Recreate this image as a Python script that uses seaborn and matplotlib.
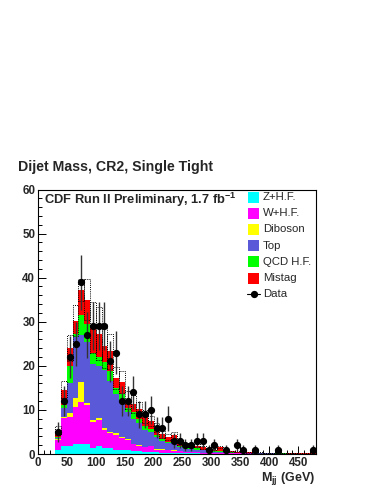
import numpy as np
import pandas as pd
import matplotlib
matplotlib.use("Agg")
import matplotlib.pyplot as plt
from matplotlib.patches import Rectangle
from matplotlib.lines import Line2D
from matplotlib.ticker import MultipleLocator
import seaborn as sns

# ---------------- data ----------------
bin_low = [30, 40, 50, 60, 70, 80, 90, 100, 110, 120, 130, 140, 150, 160, 170,
           180, 190, 200, 210, 220, 230, 240, 250, 260, 270, 280, 290, 300, 310, 320,
           330, 340, 350, 360, 370, 380, 390, 400, 410, 420, 430, 440, 450, 460, 470]
bin_width = 10

z_hf = [0.9, 1.8, 1.9, 2.2, 2.3, 2.3, 1.4, 1.8, 1.3, 1.3, 1.0, 1.0, 0.9, 0.7, 0.6,
        0.5, 0.4, 0.4, 0.3, 0.3, 0.25, 0.2, 0.15, 0.15, 0.15, 0.1, 0.1, 0.1, 0.1, 0.08,
        0.06, 0.05, 0.05, 0.04, 0.04, 0.03, 0.03, 0.03, 0.02, 0.02, 0.02, 0.02, 0.01, 0.01, 0.01]
w_hf = [2.3, 6.4, 6.6, 8.4, 9.6, 8.9, 5.8, 6.0, 4.2, 3.5, 3.4, 2.6, 2.3, 1.5, 1.3,
        1.0, 1.4, 0.6, 0.7, 0.5, 0.5, 0.4, 0.3, 0.3, 0.3, 0.2, 0.2, 0.2, 0.15, 0.15,
        0.1, 0.1, 0.08, 0.08, 0.06, 0.06, 0.05, 0.05, 0.04, 0.04, 0.03, 0.03, 0.03, 0.02, 0.02]
diboson = [0.1, 0.3, 0.9, 2.2, 4.5, 0.4, 0.4, 0.4, 0.3, 0.3, 0.3, 0.2, 0.3, 0.1, 0.1,
           0.1, 0.1, 0.1, 0.05, 0.05, 0.05, 0.05, 0.03, 0.03, 0.03, 0.02, 0.02, 0.02, 0.02, 0.02,
           0.01, 0.01, 0.01, 0.01, 0.01, 0.01, 0.01, 0.01, 0.0, 0.0, 0.0, 0.0, 0.0, 0.0, 0.0]
top = [0.3, 2.0, 6.8, 13.7, 10.6, 13.9, 12.9, 11.8, 13.2, 11.4, 8.8, 8.2, 6.0, 5.7, 5.0,
       3.9, 3.1, 2.7, 1.85, 1.55, 1.6, 0.85, 0.72, 0.62, 0.52, 0.48, 0.33, 0.23, 0.28, 0.2,
       0.16, 0.12, 0.12, 0.09, 0.08, 0.06, 0.06, 0.05, 0.05, 0.05, 0.04, 0.04, 0.03, 0.03, 0.03]
qcd_hf = [0.3, 0.7, 3.8, 0.8, 4.5, 4.0, 2.3, 2.0, 1.8, 2.3, 1.5, 1.5, 1.0, 1.5, 1.0,
          0.8, 0.7, 0.6, 0.45, 0.4, 0.5, 0.3, 0.25, 0.25, 0.3, 0.2, 0.15, 0.12, 0.12, 0.1,
          0.07, 0.06, 0.05, 0.05, 0.04, 0.03, 0.03, 0.03, 0.02, 0.02, 0.02, 0.02, 0.01, 0.01, 0.01]
mistag = [1.4, 3.4, 4.0, 2.9, 5.8, 5.5, 5.9, 5.3, 3.7, 4.5, 2.3, 2.8, 1.8, 1.8, 2.2,
          2.2, 1.8, 1.6, 1.15, 1.0, 1.4, 0.8, 0.65, 0.65, 0.6, 0.5, 0.4, 0.33, 0.93, 0.25,
          0.2, 0.16, 0.19, 0.13, 0.12, 0.11, 0.1, 0.1, 0.08, 0.08, 0.07, 0.07, 0.06, 0.06, 0.05]
bkg_unc = [1.0, 2.0, 3.0, 3.5, 2.5, 4.7, 5.7, 6.0, 5.0, 4.0, 2.5, 2.5, 2.0, 2.0, 1.6,
           1.4, 1.2, 1.0, 0.8, 0.7, 0.8, 0.5, 0.4, 0.4, 0.4, 0.3, 0.25, 0.2, 0.3, 0.15,
           0.12, 0.1, 0.1, 0.08, 0.08, 0.06, 0.06, 0.05, 0.05, 0.05, 0.04, 0.04, 0.04, 0.03, 0.03]
data_counts = [5, 12, 22, 25, 39, 27, 29, 29, 29, 21, 23, 12, 12, 14, 9,
               9, 10, 6, 6, 8, 3, 3, 2, 2, 3, 3, 1, 2, 0, 1,
               0, 2, 1, 0, 1, 0, 0, 0, 1, 0, 0, 0, 0, 0, 1]

process_names = ["Z+H.F.", "W+H.F.", "Diboson", "Top", "QCD H.F.", "Mistag"]
process_values = [z_hf, w_hf, diboson, top, qcd_hf, mistag]
process_colors = ["#00FFFF", "#FF00FF", "#FFFF00", "#5A5AD8", "#00FF00", "#FF0000"]

title = "Dijet Mass, CR2, Single Tight"
label_text = r"CDF Run II Preliminary, 1.7 fb$^{\mathbf{-1}}$"

# ---------------- style ----------------
sns.set_style("white")
plt.rcParams["font.family"] = ["Liberation Sans", "DejaVu Sans"]
plt.rcParams["mathtext.fontset"] = "custom"
plt.rcParams["mathtext.rm"] = "Liberation Sans"
plt.rcParams["mathtext.bf"] = "Liberation Sans:bold"
plt.rcParams["mathtext.it"] = "Liberation Sans:italic"

edges = bin_low + [bin_low[-1] + bin_width]
centers = [b + bin_width / 2 for b in bin_low]

rows = []
for name, vals in zip(process_names, process_values):
    for c, v in zip(centers, vals):
        rows.append({"mass": c, "events": v, "process": name})
df = pd.DataFrame(rows)

fig = plt.figure(figsize=(3.82, 4.94), dpi=100)
W, H = 382, 494
ax_l, ax_r, ax_t, ax_b = 38, 315.5, 189.5, 454
ax = fig.add_axes([ax_l / W, 1 - ax_b / H, (ax_r - ax_l) / W, (ax_b - ax_t) / H])

palette = dict(zip(process_names, process_colors))
sns.histplot(data=df, x="mass", weights="events", hue="process",
             hue_order=process_names[::-1], palette=palette, bins=edges,
             multiple="stack", element="bars", fill=True, alpha=1,
             linewidth=0, legend=False, ax=ax, antialiased=False)

# uncertainty boxes (dotted)
total = np.sum(np.array(process_values), axis=0)
unc = np.array(bkg_unc)
ax.bar(centers, 2 * unc, bottom=total - unc, width=bin_width, fill=False,
       edgecolor="black", linestyle=(0, (1, 1.2)), linewidth=0.7, zorder=3)

# data points
dc = np.array(data_counts, dtype=float)
cx = np.array(centers)
m = dc > 0
ax.errorbar(cx[m], dc[m], yerr=np.sqrt(dc[m]), fmt="o", color="black",
            markersize=4.2, ecolor="#333333", elinewidth=1.0, capsize=0, zorder=5)

ax.set_xlim(0, 480)
ax.set_ylim(0, 60)
ax.set_xlabel("")
ax.set_ylabel("")
ax.xaxis.set_major_locator(MultipleLocator(50))
ax.xaxis.set_minor_locator(MultipleLocator(10))
ax.yaxis.set_major_locator(MultipleLocator(10))
ax.yaxis.set_minor_locator(MultipleLocator(2))
ax.set_xticks([0, 50, 100, 150, 200, 250, 300, 350, 400, 450])
ax.tick_params(axis="both", which="major", direction="in", length=5.8, width=0.7,
               labelsize=8.3, color="black")
ax.tick_params(axis="both", which="minor", direction="in", length=2.9, width=0.7,
               color="black")
ax.tick_params(axis="y", which="both", left=True, right=False, pad=2)
ax.tick_params(axis="x", which="both", bottom=True, top=False, pad=2)
for lab in ax.get_xticklabels() + ax.get_yticklabels():
    lab.set_fontweight("bold")
for s in ax.spines.values():
    s.set_color("black")
    s.set_linewidth(0.8)

# x-axis title
ax.text(1.0, -0.092, r"$\mathbf{M_{jj}}$ (GeV)", transform=ax.transAxes,
        ha="right", va="center", fontsize=9, fontweight="bold")

# title
fig.text(18 / W, 1 - 167 / H, title, ha="left", va="center",
         fontsize=10.2, fontweight="bold")

# CDF label
ax.text((44 - ax_l) / (ax_r - ax_l), (ax_b - 200) / (ax_b - ax_t), label_text,
        transform=ax.transAxes, ha="left", va="center", fontsize=9.3, fontweight="bold")

# legend (ROOT-like, manual)
ax_w, ax_h = ax_r - ax_l, ax_b - ax_t
leg_labels = process_names + ["Data"]
for i, name in enumerate(leg_labels):
    yc = 197 + i * 16.2
    yax = (ax_b - yc) / ax_h
    if name != "Data":
        col = process_colors[i]
        ax.add_patch(Rectangle(((248 - ax_l) / ax_w, (ax_b - yc - 5.5) / ax_h),
                               11 / ax_w, 11 / ax_h, transform=ax.transAxes,
                               facecolor=col, edgecolor="none", zorder=6,
                               clip_on=False))
    else:
        ax.add_line(Line2D([(247 - ax_l) / ax_w, (260 - ax_l) / ax_w], [yax, yax],
                           transform=ax.transAxes, color="black", lw=0.8, zorder=6))
        ax.add_line(Line2D([(253.5 - ax_l) / ax_w], [yax], transform=ax.transAxes,
                           marker="o", markersize=4.2, color="black", zorder=6))
    ax.text((263 - ax_l) / ax_w, yax, name, transform=ax.transAxes,
            ha="left", va="center", fontsize=8.2, zorder=6)

fig.savefig("out.png", dpi=100, facecolor="white")
